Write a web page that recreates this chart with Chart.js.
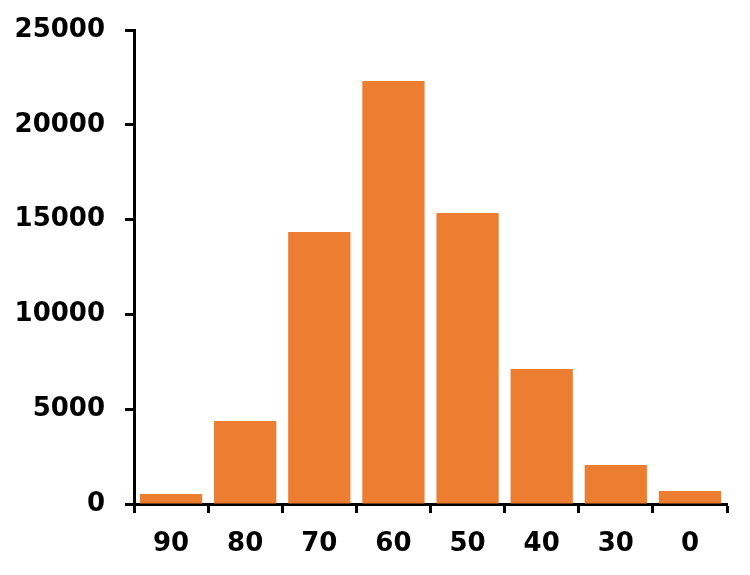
<!DOCTYPE html>
<html>
<head>
<meta charset="utf-8">
<script src="https://cdn.jsdelivr.net/npm/chart.js@4"></script>
<style>
  html, body { margin: 0; padding: 0; background: #fff; }
  #wrap { width: 750px; height: 575px; }
</style>
</head>
<body>
<div id="wrap"><canvas id="chart"></canvas></div>
<script>
// Data
const categories = ['90', '80', '70', '60', '50', '40', '30', '0'];
const counts = [530, 4380, 14350, 22310, 15350, 7120, 2060, 690];
const yTicks = [0, 5000, 10000, 15000, 20000, 25000];

const barColor = '#ED7D31';
const axisFont = { family: 'DejaVu Sans', size: 26, weight: 'bold' };

const ctx = document.getElementById('chart').getContext('2d');
new Chart(ctx, {
    type: 'bar',
    data: {
        labels: categories,
        datasets: [{
            data: counts,
            backgroundColor: barColor,
            borderWidth: 0,
            barPercentage: 0.84,
            categoryPercentage: 1.0
        }]
    },
    options: {
        responsive: true,
        maintainAspectRatio: false,
        animation: false,
        layout: { padding: { top: 30, right: 23, bottom: 0, left: 0 } },
        plugins: {
            legend: { display: false },
            tooltip: { enabled: false }
        },
        scales: {
            x: {
                offset: true,
                grid: {
                    offset: true,
                    drawOnChartArea: false,
                    drawTicks: true,
                    tickLength: 9,
                    tickWidth: 3,
                    color: '#000'
                },
                border: { display: true, color: '#000', width: 3 },
                ticks: { color: '#000', font: axisFont, padding: 16 },
                afterFit: scale => {
                    scale.height = 71;
                    scale.paddingLeft = 0;
                    scale.paddingRight = 0;
                }
            },
            y: {
                min: 0,
                max: 25000,
                afterBuildTicks: scale => {
                    scale.ticks = yTicks.map(v => ({ value: v }));
                },
                grid: {
                    drawOnChartArea: false,
                    drawTicks: true,
                    tickLength: 9,
                    tickWidth: 3,
                    color: '#000'
                },
                border: { display: true, color: '#000', width: 3 },
                ticks: {
                    color: '#000',
                    font: axisFont,
                    padding: 20,
                    callback: v => String(v)
                },
                afterFit: scale => {
                    scale.width = 134;
                    scale.paddingTop = 0;
                    scale.paddingBottom = 0;
                }
            }
        }
    }
});
</script>
</body>
</html>
